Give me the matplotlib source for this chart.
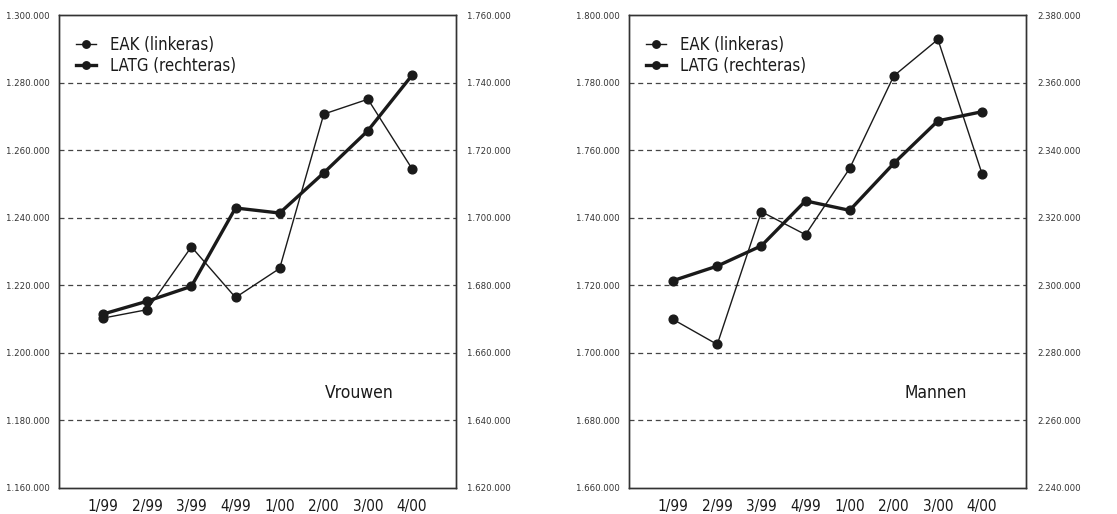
import matplotlib
matplotlib.use("Agg")
import matplotlib.pyplot as plt
from matplotlib.ticker import FuncFormatter

quarters = ["1/99", "2/99", "3/99", "4/99", "1/00", "2/00", "3/00", "4/00"]

# Vrouwen
eak_vrouwen = [1210300, 1212800, 1231400, 1216400, 1225000, 1270700, 1275100, 1254500]
latg_vrouwen = [1671500, 1675300, 1679700, 1702900, 1701400, 1713300, 1725800, 1742200]
# Mannen
eak_mannen = [1709900, 1702500, 1741800, 1735000, 1754600, 1782000, 1792800, 1753000]
latg_mannen = [2301400, 2305700, 2311700, 2325000, 2322200, 2336100, 2348700, 2351400]

left_ticks_v = [1160000, 1180000, 1200000, 1220000, 1240000, 1260000, 1280000, 1300000]
right_ticks_v = [1620000, 1640000, 1660000, 1680000, 1700000, 1720000, 1740000, 1760000]
left_ticks_m = [1660000, 1680000, 1700000, 1720000, 1740000, 1760000, 1780000, 1800000]
right_ticks_m = [2240000, 2260000, 2280000, 2300000, 2320000, 2340000, 2360000, 2380000]

labels = ["EAK (linkeras)", "LATG (rechteras)"]
titles = ["Vrouwen", "Mannen"]

plt.rcParams['font.family'] = ['DejaVu Sans']
plt.rcParams['font.stretch'] = 'condensed'
ink = "#1a1a1a"

def dotfmt(v, pos):
    return f"{int(round(v)):,}".replace(",", ".")

fig = plt.figure(figsize=(11.17, 5.14), dpi=100)
panels = [
    (0.0528, eak_vrouwen, latg_vrouwen, left_ticks_v, right_ticks_v, titles[0], 5.8),
    (0.5631, eak_mannen, latg_mannen, left_ticks_m, right_ticks_m, titles[1], 5.95),
]
x = list(range(len(quarters)))
for left, eak, latg, lt, rt, title, tx in panels:
    ax = fig.add_axes([left, 0.0506, 0.3556, 0.920])
    ax2 = ax.twinx()
    ax.set_xlim(-1, 8)
    ax.set_ylim(lt[0], lt[-1])
    ax2.set_ylim(rt[0], rt[-1])
    for t in lt[1:-1]:
        ax.axhline(t, color="#444444", lw=0.9, ls=(0, (4, 3)), zorder=0)
    l1, = ax.plot(x, eak, color=ink, lw=1.0, marker="o", ms=6.3, zorder=3)
    l2, = ax2.plot(x, latg, color=ink, lw=2.4, marker="o", ms=6.3, zorder=3)
    ax.set_yticks(lt)
    ax2.set_yticks(rt)
    ax.yaxis.set_major_formatter(FuncFormatter(dotfmt))
    ax2.yaxis.set_major_formatter(FuncFormatter(dotfmt))
    ax.set_xticks(x)
    ax.set_xticklabels(quarters, fontsize=11, color=ink)
    ax.tick_params(axis="x", length=0, pad=8)
    ax.tick_params(axis="y", length=0, pad=7, labelsize=6.8, labelcolor="#333333")
    ax2.tick_params(axis="y", length=0, pad=8, labelsize=6.8, labelcolor="#333333")
    for a in (ax, ax2):
        for s in a.spines.values():
            s.set_color("#333333")
            s.set_linewidth(1.0)
    ax.text(tx, lt[0] + (lt[-1] - lt[0]) * 0.2, title, fontsize=12.5, color=ink,
            ha="center", va="center")
    leg = ax.legend([l1, l2], labels, loc="upper left", frameon=False,
                    fontsize=12, handlelength=1.2, handletextpad=0.8,
                    borderaxespad=0.4, labelspacing=0.2, bbox_to_anchor=(0.01, 0.985),
                    markerscale=0.85)
    for t in leg.get_texts():
        t.set_color(ink)

fig.savefig("out.png", dpi=100)
